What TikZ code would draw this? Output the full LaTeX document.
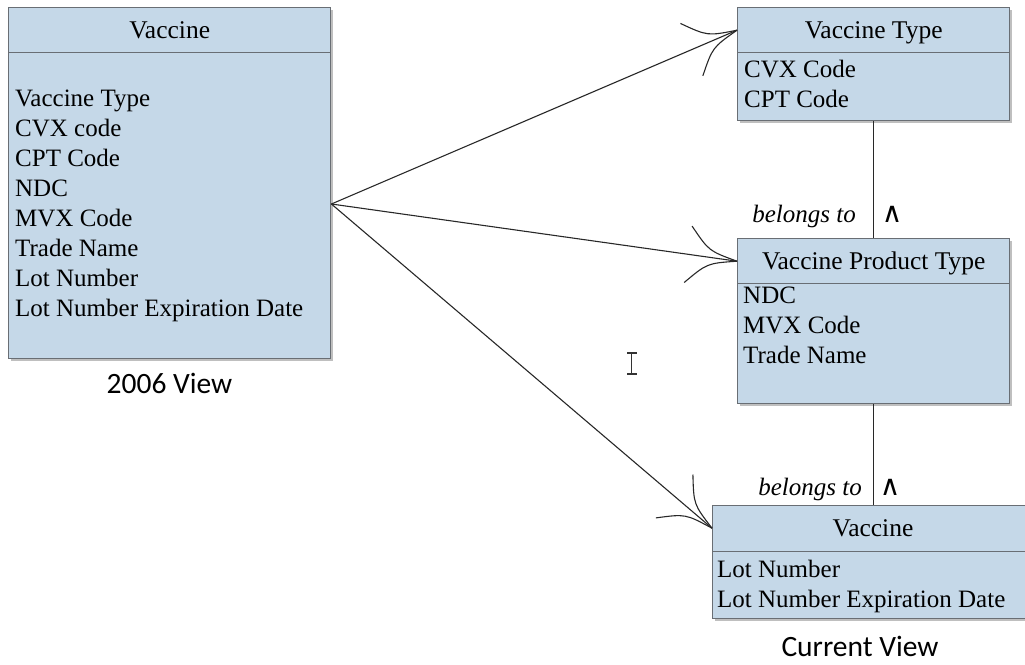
\documentclass[tikz,border=0pt]{standalone}
\usepackage{fontspec}
\setmainfont{Liberation Serif}
\newfontfamily\calib{Carlito}
\newfontfamily\dvs{DejaVu Sans}
\usetikzlibrary{calc,shadows}
\definecolor{boxfill}{RGB}{197,216,232}
\definecolor{boxedge}{RGB}{105,110,116}
\definecolor{linec}{RGB}{40,40,40}
\newcommand\mybarbs[2]{%
  \draw[conn] (#2) .. controls ($(#2)!30pt!12:(#1)$) .. ($(#2)!57pt!30:(#1)$);
  \draw[conn] (#2) .. controls ($(#2)!30pt!-12:(#1)$) .. ($(#2)!57pt!-30:(#1)$);}
\begin{document}
\begin{tikzpicture}[x=1pt,y=-1pt,
  boxpart/.style={draw=boxedge, line width=1.4pt, fill=boxfill, rectangle, inner sep=0pt, anchor=north west,
    drop shadow={shadow xshift=2pt, shadow yshift=-2pt, opacity=0.25, fill=black}},
  title/.style={font=\fontsize{25.5}{28}\selectfont, text height=16pt, text depth=0pt},
  attr/.style={font=\fontsize{25}{30}\selectfont, inner sep=0pt, anchor=base west},
  conn/.style={draw=linec, line width=1.1pt},
  rel/.style={font=\fontsize{25}{28}\selectfont\itshape, inner sep=0pt, anchor=base east},
  caret/.style={font=\dvs\fontsize{28}{30}\selectfont, inner sep=0pt, anchor=base},
  viewlbl/.style={font=\calib\fontsize{29.5}{32}\selectfont, inner sep=0pt, anchor=base}
]
\useasboundingbox (0,0) rectangle (1025,664);
\clip (0,0) rectangle (1025,664);

% 2006 view
\node[boxpart, minimum width=322pt, minimum height=45pt, title] (oldhead) at (8,7) {Vaccine};
\node[boxpart, minimum width=322pt, minimum height=306pt] (oldbody) at (8,52) {};
\foreach \t [count=\i] in {Vaccine Type, CVX code, CPT Code, NDC, MVX Code, Trade Name, Lot Number, Lot Number Expiration Date}
  \node[attr] (old-\i) at (15,{106.7+30*(\i-1)}) {\t};
\node[viewlbl] (oldview) at (169.5,393.5) {2006 View};

% Vaccine Type
\node[boxpart, minimum width=272pt, minimum height=45pt, title] (vthead) at (737,7) {Vaccine Type};
\node[boxpart, minimum width=272pt, minimum height=68pt] (vtbody) at (737,52) {};
\node[attr] (vt-1) at (744,77.5) {CVX Code};
\node[attr] (vt-2) at (744,107.5) {CPT Code};

% Vaccine Product Type
\node[boxpart, minimum width=272pt, minimum height=45pt, title] (vphead) at (737,238) {Vaccine Product Type};
\node[boxpart, minimum width=272pt, minimum height=120pt] (vpbody) at (737,283) {};
\node[attr] (vp-1) at (743,303.5) {NDC};
\node[attr] (vp-2) at (743,333.5) {MVX Code};
\node[attr] (vp-3) at (743,363.5) {Trade Name};

% Current Vaccine
\node[boxpart, minimum width=340pt, minimum height=46pt, title] (cvhead) at (712,505) {};
\node[title] (cvtitle) at (873,528) {Vaccine};
\node[boxpart, minimum width=340pt, minimum height=67pt] (cvbody) at (712,551) {};
\node[attr] (cv-1) at (717,577.5) {Lot Number};
\node[attr] (cv-2) at (717,607.5) {Lot Number Expiration Date};
\node[viewlbl] (curview) at (860,656.5) {Current View};

% relations
\draw[conn] (vtbody.south) -- (vphead.north);
\node[rel] (rel1) at (856,222) {belongs to};
\node[caret] (car1) at (892,222) {∧};
\draw[conn] (vpbody.south) -- (vpbody.south |- cvhead.north);
\node[rel] (rel2) at (862,495) {belongs to};
\node[caret] (car2) at (890,495) {∧};

% mapping arrows
\coordinate (src) at ($(oldbody.north east)+(0,152)$);
\coordinate (t1) at (vthead.west);
\coordinate (t2) at (vphead.west);
\coordinate (t3) at ($(cvhead.west)+(0,-0.5)$);
\draw[conn] (src) -- (t1);
\draw[conn] (src) -- (t2);
\draw[conn] (src) -- (t3);
\mybarbs{src}{t1}
\mybarbs{src}{t2}
\mybarbs{src}{t3}

% text cursor
\draw[line width=1.3pt, draw=black!80] (631.7,353) -- (631.7,374)
  (627,353) -- (636.5,353) (627,374) -- (636.5,374);
\end{tikzpicture}
\end{document}
